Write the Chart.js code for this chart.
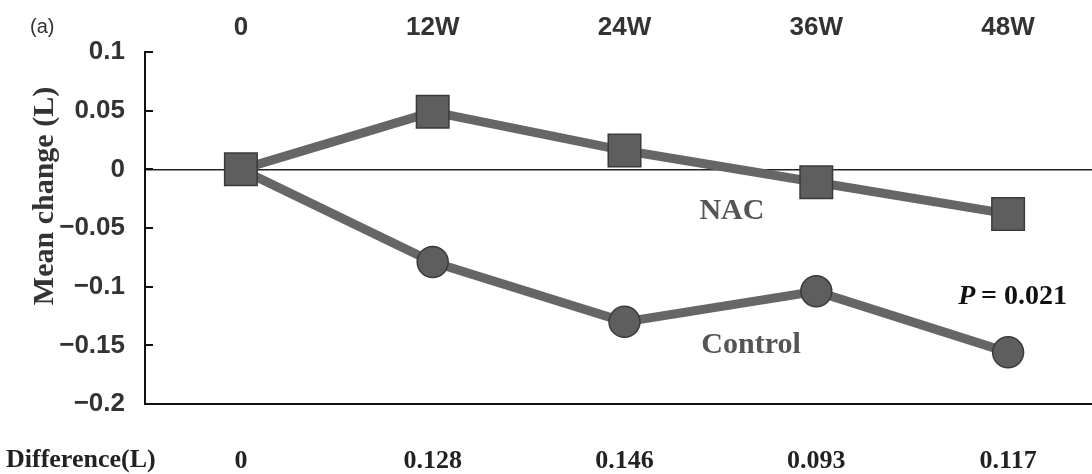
<!DOCTYPE html>
<html>
<head>
<meta charset="utf-8">
<script src="https://cdn.jsdelivr.net/npm/chart.js@4.4.1/dist/chart.umd.min.js"></script>
<style>
  html, body { margin: 0; padding: 0; background: #fff; overflow: hidden; }
  #nacChart { position: absolute; left: 0; top: 0; }
</style>
</head>
<body>
<canvas id="nacChart" width="1104" height="474"></canvas>
<script>
// values
const weeks = ['0', '12W', '24W', '36W', '48W'];
const nacValues = [0, 0.049, 0.016, -0.011, -0.038];
const controlValues = [0, -0.079, -0.130, -0.104, -0.156];
const differenceLabels = ['0', '0.128', '0.146', '0.093', '0.117'];
const yMin = -0.2, yMax = 0.1, yStep = 0.05;

const SANS = '"Liberation Sans", Arial, sans-serif';
const SERIF = '"Liberation Serif", "Times New Roman", serif';

function fmtTick(v) {
    const r = Math.round(v * 100) / 100;
    if (r === 0) return '0';
    return r < 0 ? '\u2212' + String(-r) : String(r);
}

// inward ticks, y title, annotations
const extras = {
    id: 'extras',
    afterDraw(chart) {
        const ctx = chart.ctx, y = chart.scales.y, x = chart.scales.x;
        ctx.save();
        ctx.strokeStyle = '#111';
        ctx.lineWidth = 2;
        y.ticks.forEach(t => {
            const py = Math.round(y.getPixelForValue(t.value));
            ctx.beginPath();
            ctx.moveTo(y.right, py);
            ctx.lineTo(y.right + 8, py);
            ctx.stroke();
        });

        ctx.fillStyle = '#333';
        ctx.font = 'bold 30px ' + SERIF;
        ctx.textAlign = 'center';
        ctx.textBaseline = 'middle';
        ctx.save();
        ctx.translate(45, 196);
        ctx.rotate(-Math.PI / 2);
        ctx.fillText('Mean change (L)', 0, 0);
        ctx.restore();

        ctx.font = '20px ' + SANS;
        ctx.textAlign = 'left';
        ctx.fillText('(a)', 30, 27);

        ctx.font = 'bold 26px ' + SERIF;
        ctx.fillStyle = '#222';
        ctx.fillText('Difference(L)', 6, 460);

        ctx.fillStyle = '#555';
        ctx.font = 'bold 30px ' + SERIF;
        ctx.textAlign = 'center';
        ctx.fillText('NAC', x.getPixelForValue(2.56), y.getPixelForValue(-0.036));
        ctx.fillText('Control', x.getPixelForValue(2.66), y.getPixelForValue(-0.150));

        ctx.fillStyle = '#111';
        ctx.textAlign = 'left';
        const px = x.getPixelForValue(3.74), py = y.getPixelForValue(-0.109);
        ctx.font = 'italic bold 28px ' + SERIF;
        ctx.fillText('P', px, py);
        const w = ctx.measureText('P').width;
        ctx.font = 'bold 28px ' + SERIF;
        ctx.fillText('\u2009= 0.021', px + w, py);
        ctx.restore();
    }
};

new Chart(document.getElementById('nacChart'), {
    type: 'line',
    data: {
        labels: weeks,
        datasets: [
            { label: 'NAC', data: nacValues, borderColor: '#666', borderWidth: 9, pointStyle: 'rect', pointRadius: 23, pointHoverRadius: 23, pointBackgroundColor: '#5e5e5e', pointBorderColor: '#3a3a3a', pointBorderWidth: 1.5 },
            { label: 'Control', data: controlValues, borderColor: '#666', borderWidth: 9, pointStyle: 'circle', pointRadius: 15.5, pointHoverRadius: 15.5, pointBackgroundColor: '#5e5e5e', pointBorderColor: '#3a3a3a', pointBorderWidth: 1.5 }
        ]
    },
    options: {
        responsive: false, animation: false,
        layout: { padding: 0, autoPadding: false },
        plugins: { legend: { display: false }, tooltip: { enabled: false } },
        scales: {
            x: {
                position: 'top', offset: true,
                grid: { display: false, drawTicks: false }, border: { display: false },
                ticks: { color: '#333', font: { family: SANS, size: 26, weight: 'bold' }, padding: 9, maxRotation: 0 },
                afterFit(s) { s.height = 52; }
            },
            x2: {
                type: 'category', position: 'bottom', offset: true, labels: differenceLabels,
                grid: { display: false, drawTicks: false }, border: { display: true, color: '#111', width: 2 },
                ticks: { color: '#222', font: { family: SERIF, size: 26, weight: 'bold' }, padding: 42, maxRotation: 0 },
                afterFit(s) { s.height = 70; }
            },
            y: {
                min: yMin, max: yMax,
                grid: { drawTicks: false, lineWidth: 1.5, color: c => c.tick && Math.abs(c.tick.value) < 1e-9 ? '#222' : 'rgba(0,0,0,0)' },
                border: { display: true, color: '#111', width: 2 },
                ticks: { stepSize: yStep, color: '#333', font: { family: SANS, size: 26, weight: 'bold' }, padding: 20, callback: v => fmtTick(v) },
                afterFit(s) { s.width = 145; }
            }
        }
    },
    plugins: [extras]
});
</script>
</body>
</html>
